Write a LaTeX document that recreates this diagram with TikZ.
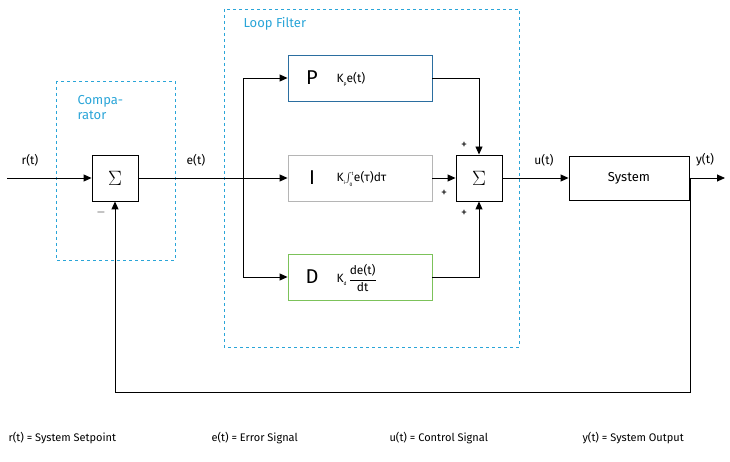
\documentclass[tikz,border=0pt]{standalone}
\usepackage{fontspec}
\setmainfont{Fira Sans}
\usetikzlibrary{arrows.meta}
\definecolor{lb}{HTML}{2AA5D8}
\definecolor{pb}{HTML}{2B6EA0}
\definecolor{ig}{HTML}{B5B5B5}
\definecolor{dg}{HTML}{7CC25A}
\begin{document}
\begin{tikzpicture}[x=1pt,y=-1pt,
  blk/.style={draw,line width=0.9pt,minimum width=#1,minimum height=46pt,inner sep=0pt},
  sig/.style={font=\fontsize{12}{14}\selectfont},
  ar/.style={-{Triangle[length=8pt,width=7pt]},line width=0.9pt},
  lfbox/.style={draw=lb,dashed,line width=0.9pt},
  big/.style={font=\fontsize{20}{22}\selectfont},
  sm/.style={font=\fontsize{12}{14}\selectfont}]
\useasboundingbox (0,0) rectangle (730,462);
\draw[lfbox] (56,81) rectangle (175,260);
\draw[lfbox] (224,9) rectangle (519,347);
\node[text=lb,align=left,anchor=north west,font=\fontsize{13}{15}\selectfont] (cl) at (74,92) {Compa-\\rator};
\node[text=lb,anchor=north west,font=\fontsize{13}{15}\selectfont] (ll) at (240,14) {Loop Filter};
\node[blk=46pt] (s1) at (115,178) {\fontsize{20}{22}\selectfont$\Sigma$};
\node[blk=46pt] (s2) at (479,178) {\fontsize{20}{22}\selectfont$\Sigma$};
\node[blk=144pt,draw=pb] (P) at (360,78) {};
\node[blk=144pt,draw=ig] (I) at (360,178) {};
\node[blk=144pt,draw=dg] (D) at (360,277) {};
\node[big] (pl) at (312,78) {P};
\node[sm,anchor=west] (pt) at (333,79) {K\raisebox{-3pt}{\tiny p}e(t)};
\node[big] (il) at (312,178) {I};
\node[sm,anchor=west] (it) at (333,179) {K\raisebox{-3pt}{\tiny i}$\int_{\raisebox{-2pt}{\tiny 0}}^{\raisebox{1pt}{\tiny t}}$e(τ)dτ};
\node[big] (dl) at (312,277) {D};
\node[sm,anchor=west] (dt) at (333,278) {K\raisebox{-3pt}{\tiny d}\,$\displaystyle\frac{\mbox{de(t)}}{\mbox{dt}}$};
\node[blk=120pt,minimum height=44pt] (sys) at (629,178) {\fontsize{13}{15}\selectfont System};
\coordinate (in) at (7,178);
\coordinate (out) at (725,178);
\coordinate (br) at (243,178);
\coordinate (fb) at (690,178);
\draw[ar] (in) -- (s1.west);
\draw[ar] (s1.east) -- (I.west);
\draw[ar] (br) |- (P.west);
\draw[ar] (br) |- (D.west);
\draw[ar] (I.east) -- (s2.west);
\draw[ar] (P.east) -| (s2.north);
\draw[ar] (D.east) -| (s2.south);
\draw[ar] (s2.east) -- (sys.west);
\draw[ar] (sys.east) -- (out);
\draw[ar] (fb) -- ++(0,214) -| (s1.south);
\node[sig] (rt) at (30,160) {r(t)};
\node[sig] (et) at (196,160) {e(t)};
\node[sig] (ut) at (544,160) {u(t)};
\node[sig] (yt) at (705,160) {y(t)};
\node[sm] (m1) at (101,213) {$-$};
\node[sm] (p1) at (464,145) {+};
\node[sm] (p2) at (444,193) {+};
\node[sm] (p3) at (464,213) {+};
\node[anchor=west,font=\fontsize{11}{13}\selectfont] (l1) at (5,438) {r(t) = System Setpoint};
\node[anchor=west,font=\fontsize{11}{13}\selectfont] (l2) at (208,438) {e(t) = Error Signal};
\node[anchor=west,font=\fontsize{11}{13}\selectfont] (l3) at (386,438) {u(t) = Control Signal};
\node[anchor=west,font=\fontsize{11}{13}\selectfont] (l4) at (579,438) {y(t) = System Output};
\end{tikzpicture}
\end{document}
